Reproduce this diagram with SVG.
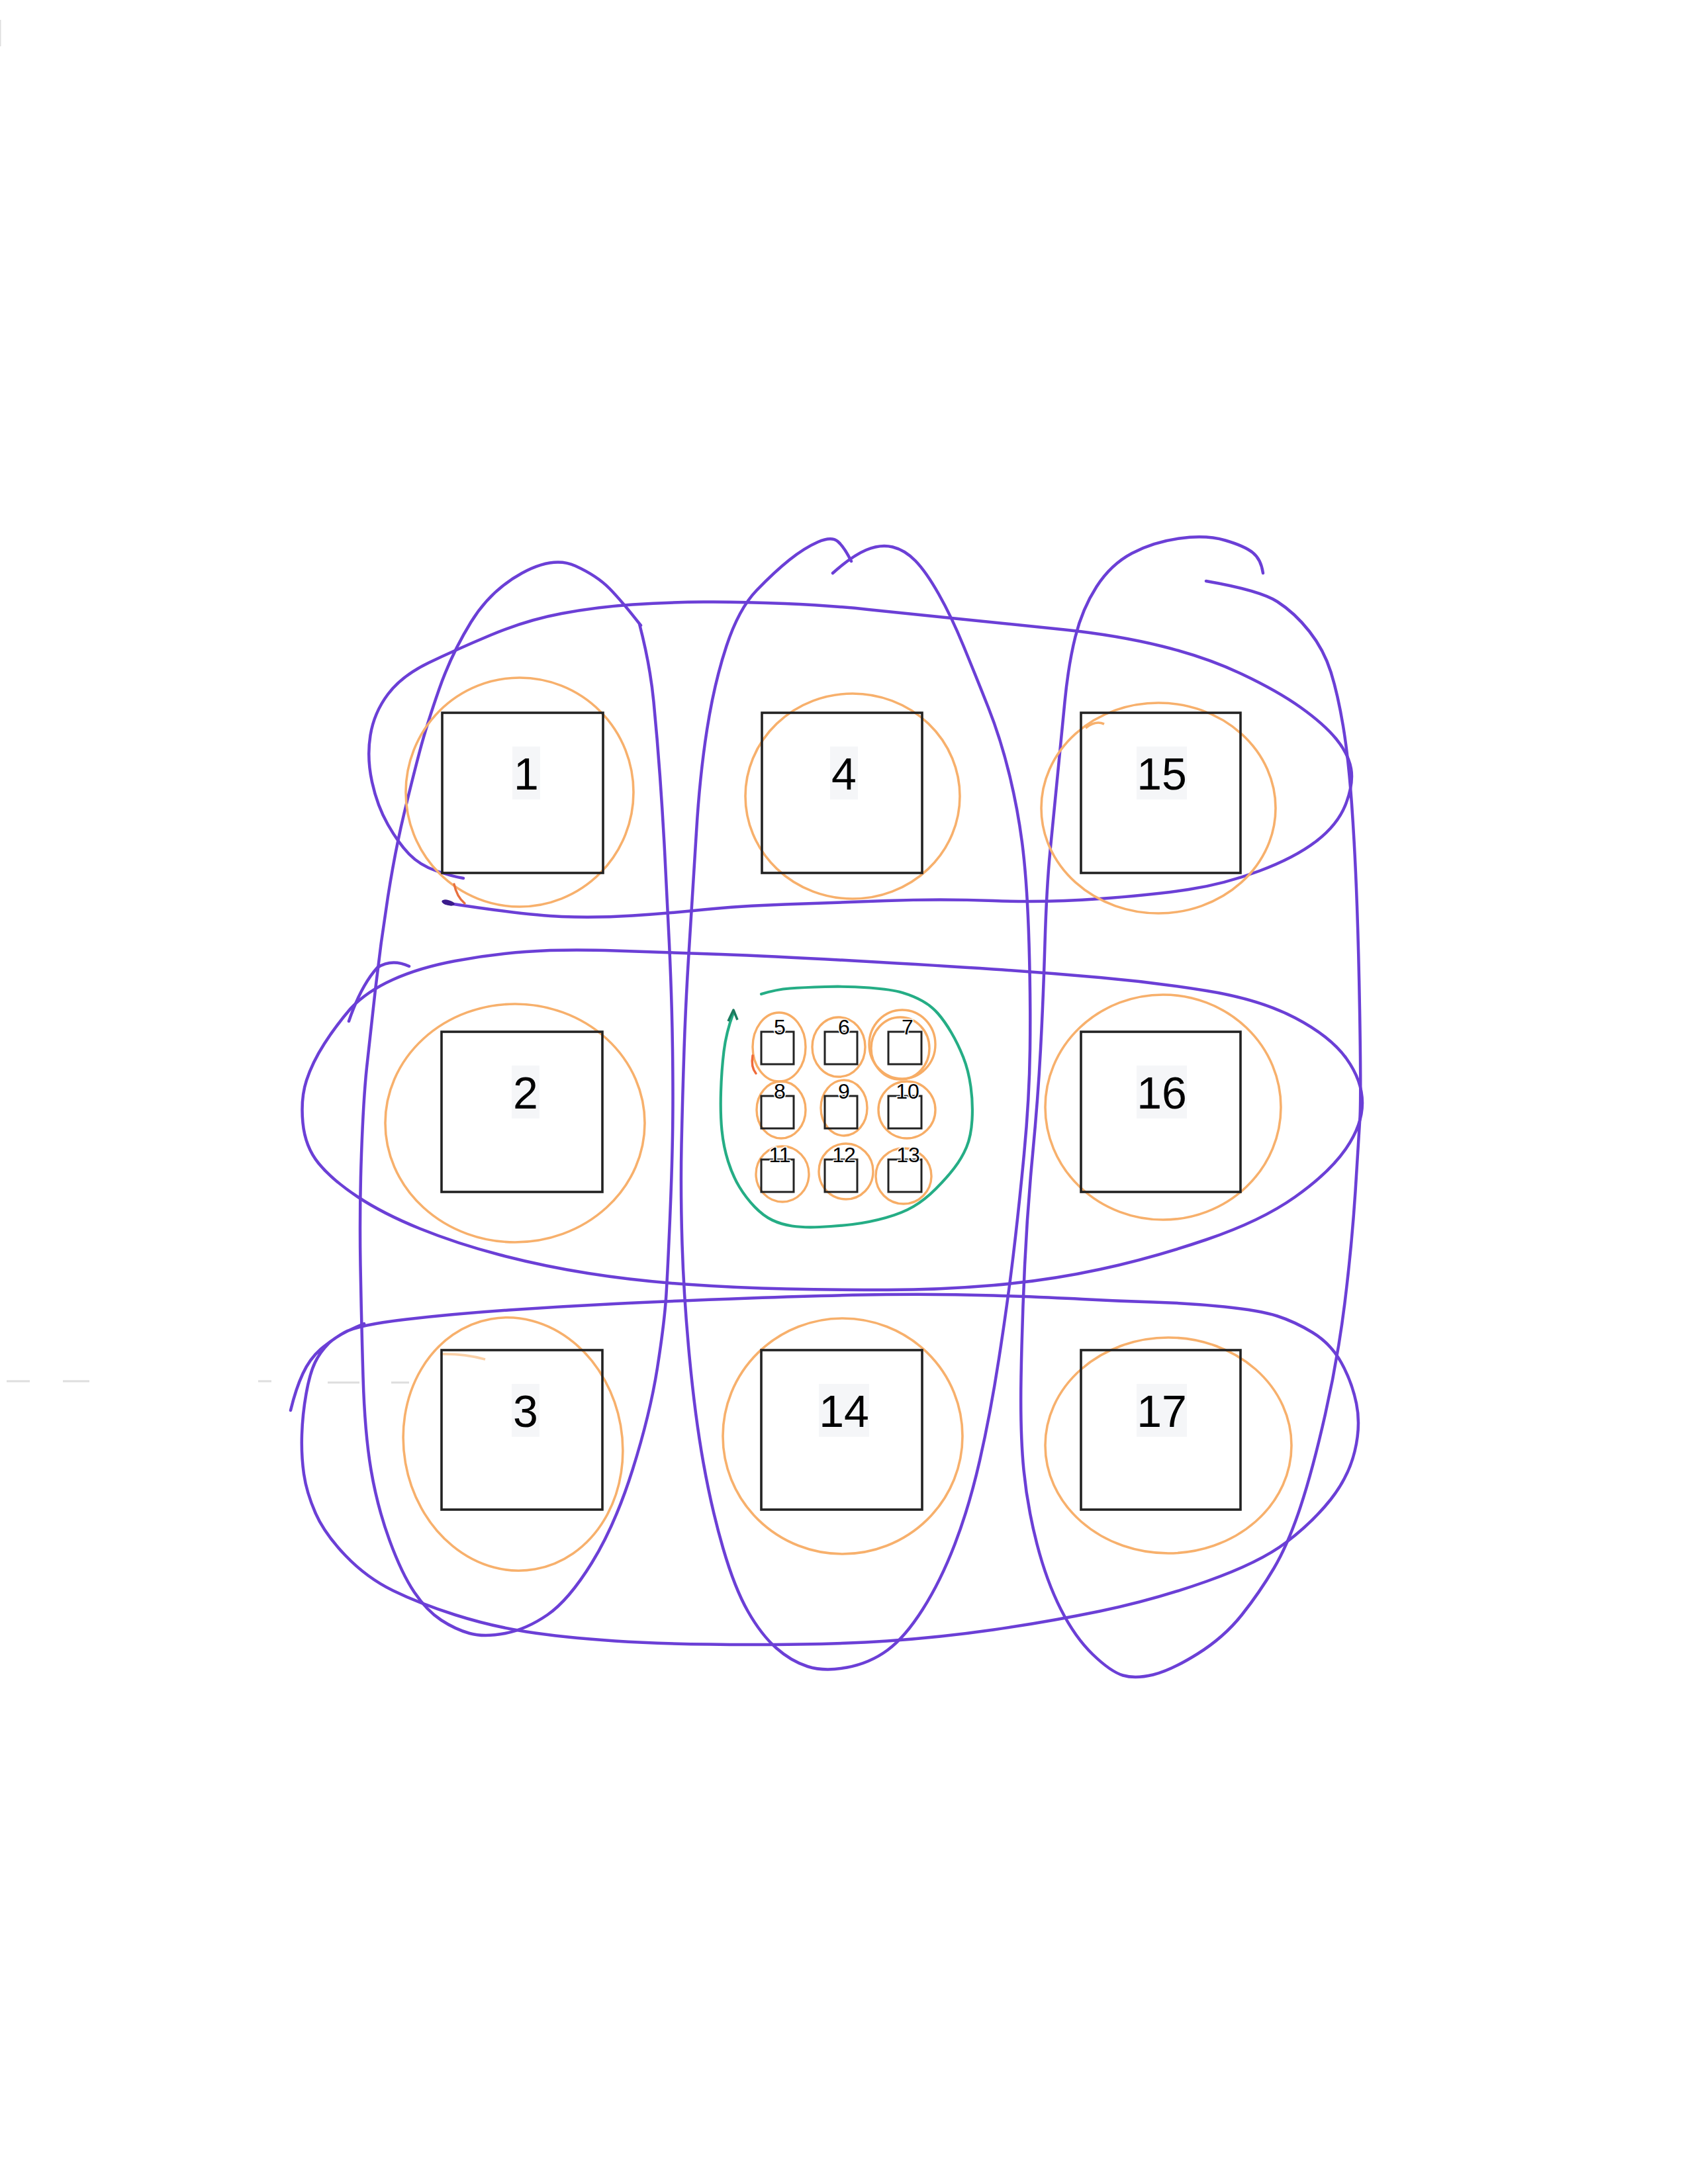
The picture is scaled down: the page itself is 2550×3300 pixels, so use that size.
<svg xmlns="http://www.w3.org/2000/svg" width="2550" height="3300" viewBox="0 0 2550 3300">
<style>
.p{fill:none;stroke:#6b3fd6;stroke-width:4.5;stroke-linecap:round;stroke-linejoin:round}
.o{fill:none;stroke:#f7b06c;stroke-width:3.6}
.os{fill:none;stroke:#f7ad66;stroke-width:3.4}
.g{fill:none;stroke:#25ad85;stroke-width:4.2;stroke-linecap:round}
.box{fill:none;stroke:#222;stroke-width:3.6}
.sbox{fill:none;stroke:#222;stroke-width:3}
.lbg{fill:#f5f6f8}
.big{font-family:"Liberation Sans",Arial,sans-serif;font-size:68px;fill:#000;text-anchor:middle}
.sm{font-family:"Liberation Sans",Arial,sans-serif;font-size:32px;fill:#000;text-anchor:middle;stroke:#fff;stroke-width:3;paint-order:stroke}
.art{stroke:#dedede;stroke-width:3;fill:none}
</style>
<rect width="2550" height="3300" fill="#fff"/>
<g id="artifacts">
<path class="art" d="M10,2087 L45,2087 M95,2087 L135,2087 M390,2087 L410,2087 M495,2089 L543,2089 M591,2089 L618,2089"/>
<path class="art" d="M0,30 L0,70"/>
</g>
<g id="connectors">
<g id="purple-loops">
<path class="p" d="M672,1364 Q795,1383 848.5,1385 T955.5,1383.5 T1062.5,1374.5 T1186,1366.5 T1338.5,1361 T1501,1361 T1661.5,1358 T1795.5,1344 T1902.5,1316 T1988.5,1271 T2033,1215 T2041,1161.5 T2018.5,1116.5 T1965,1069 T1876,1018.5 T1755.5,976.5 T1608.5,951.5 T1447.5,935 T1311.5,921 T1186,912 T1062.5,909.5 T955.5,913.5 T848.5,927 T741.5,959.5 T647.5,1001.5 T586,1049 T559.5,1111 T562,1181.5 T586,1246 T618,1290.5 T658,1315.5 T700,1327"/>
<ellipse cx="677" cy="1364" rx="10" ry="4" fill="#3b1c8c" transform="rotate(15 677 1364)"/>
<path class="p" d="M530,1523.5 Q554,1498 594,1480 T687.5,1452 T795,1438 T929,1436.5 T1089.5,1442 T1295.5,1452 T1501,1464.5 T1661.5,1477 T1822.5,1497 T1956.5,1538 T2034,1599.5 T2058,1666.5 T2033,1736 T1956.5,1808.5 T1822.5,1873 T1661.5,1918 T1501,1942 T1340.5,1949 T1188,1947.5 T1036,1940.5 T889,1924 T755,1896 T634.5,1856.5 T540.5,1808.5 T481.5,1758 T457.5,1696.5 T463,1632.5 T490,1577 T530,1523.5 Z"/>
<path class="p" d="M527,1543 Q545,1490 570,1462 Q592,1448 618,1460"/>
<path class="p" d="M439,2131 Q447,2098 457.5,2075.5 T484,2039 T520,2013.5 T614,1993.5 T768.5,1979.5 T929,1970 T1132.5,1961.5 T1338.5,1956 T1501,1957.5 T1635,1963 T1742.5,1967.5 T1849.5,1974.5 T1929.5,1988.5 T1983,2013.5 T2026,2058.5 T2049,2120.5 T2046.5,2193 T2010,2266 T1943,2330.5 T1822.5,2389.5 T1661.5,2434.5 T1501,2462.5 T1340.5,2479.5 T1134.5,2485 T929,2479.5 T795,2465.5 T687.5,2440 T594,2403.5 T522,2350.5 T476.5,2286 T459,2227 T456,2168 T462.5,2106 T476,2058.5 T497.5,2029 T550,2000"/>
<path class="p" d="M966,943 Q982,1004 987.5,1060.5 T997,1173 T1004,1285 T1011,1425.5 T1016,1585 T1016,1716 T1012,1842.5 T1006.5,1955 T993,2067 T955.5,2221 T894,2361.5 T827,2440 T763,2468 T709.5,2468 T666.5,2448 T626,2406 T588.5,2327.5 T560.5,2221 T548.5,2081 T544.5,1912.5 T546,1744 T554,1613 T567,1495.5 T586,1355 T610.5,1229 T634.5,1133.5 T663.5,1041 T711.5,940 T788.5,866 T869,855 T921,889.5 T968,945"/>
<path class="p" d="M1258,866 Q1287,840 1308.5,831 T1348.5,826.5 T1383,847.5 T1418,897.5 T1455.5,976 T1493,1069 T1525.5,1173 T1545.5,1285 T1554.5,1425.5 T1556,1585 T1547,1744 T1530.5,1898.5 T1509,2053 T1480,2207 T1442.5,2333 T1394,2431.5 T1340.5,2493.5 T1279.5,2519.5 T1220,2518 T1172.5,2490 T1130,2435 T1092.5,2340 T1062.5,2210 T1041.5,2050 T1030.5,1880 T1029.5,1730 T1033.5,1585 T1041.5,1425.5 T1052,1257 T1068,1102.5 T1097.5,976 T1143,892 T1192.5,846 T1235.5,819 T1265.5,818 T1286,848"/>
<path class="p" d="M1822,878 Q1903,892 1929.5,909 T1978,954 T2010.5,1015.5 T2029,1097 T2042,1215 T2050,1369 T2054.5,1556.5 T2054.5,1688 T2047.5,1800 T2031.5,1968.5 T2002,2137 T1964.5,2277 T1924.5,2369.5 T1876,2440 T1809,2499 T1742,2530.5 T1696.5,2531.5 T1651,2500 T1602.5,2431.5 T1566.5,2333 T1546.5,2221 T1542.5,2081 T1548,1912.5 T1560,1744 T1572,1585 T1578.5,1425.5 T1586.5,1285 T1597.5,1173 T1608.5,1060.5 T1624.5,962 T1656.5,886.5 T1710,836 T1782,813.5 T1851,816.5 T1892.5,835 T1908,866"/>
</g>
<g id="green-loop">
<path class="g" d="M1150,1502 Q1173,1495 1193,1493.5 T1246.5,1491 T1313.5,1492.5 T1363.5,1500 T1393.5,1512.5 T1417,1531.5 T1437,1560 T1455,1597 T1466.5,1642 T1468.5,1692 T1460,1733.5 T1441.5,1765 T1413.5,1796.5 T1380,1823 T1338,1840 T1288,1850 T1238,1854 T1196.5,1852.5 T1166.5,1843.5 T1140,1823.5 T1117,1793.5 T1100,1755 T1090.5,1708 T1089,1650 T1093.5,1588.5 T1108,1530"/>
<path d="M1100,1543 L1108,1526 L1114,1541" fill="none" stroke="#1c7a5e" stroke-width="3.5" stroke-linejoin="round"/>
</g>
<g id="orange-loops">
<ellipse class="o" cx="785" cy="1197" rx="172" ry="173"/>
<path d="M686,1336 Q690,1355 702,1365" fill="none" stroke="#e8703e" stroke-width="3.5" stroke-linecap="round"/>
<ellipse class="o" cx="1288" cy="1203" rx="162" ry="155"/>
<ellipse class="o" cx="1750" cy="1221" rx="177" ry="159"/>
<path class="o" d="M1640,1100 Q1655,1088 1668,1094"/>
<ellipse class="o" cx="778" cy="1697" rx="196" ry="180"/>
<ellipse class="o" cx="1757" cy="1673" rx="178" ry="170"/>
<ellipse class="o" cx="775" cy="2182" rx="165" ry="192" transform="rotate(-10 775 2182)"/>
<path class="o" d="M665,2046 Q700,2045 733,2054" stroke-opacity="0.6"/>
<ellipse class="o" cx="1273" cy="2170" rx="181" ry="178"/>
<ellipse class="o" cx="1765" cy="2184" rx="186" ry="163"/>
<ellipse class="os" cx="1177" cy="1582" rx="40" ry="52"/>
<path d="M1137,1595 Q1134,1612 1142,1622" fill="none" stroke="#ef6a3a" stroke-width="3.5" stroke-linecap="round"/>
<ellipse class="os" cx="1267" cy="1582" rx="40" ry="45"/>
<ellipse class="os" cx="1363" cy="1578" rx="50" ry="52"/>
<ellipse class="os" cx="1360" cy="1584" rx="44" ry="47"/>
<ellipse class="os" cx="1180" cy="1677" rx="37" ry="43"/>
<ellipse class="os" cx="1275" cy="1674" rx="35" ry="42"/>
<ellipse class="os" cx="1370" cy="1677" rx="43" ry="43"/>
<ellipse class="os" cx="1182" cy="1774" rx="40" ry="42"/>
<ellipse class="os" cx="1278" cy="1770" rx="41" ry="42"/>
<ellipse class="os" cx="1365" cy="1777" rx="42" ry="42"/>
</g>
</g>
<g id="node-1"><rect class="box" x="668" y="1077" width="243" height="242"/><rect class="lbg" x="774" y="1128" width="42" height="80"/><text class="big" x="795" y="1193">1</text></g>
<g id="node-4"><rect class="box" x="1151" y="1077" width="242" height="242"/><rect class="lbg" x="1254" y="1128" width="42" height="80"/><text class="big" x="1275" y="1193">4</text></g>
<g id="node-15"><rect class="box" x="1633" y="1077" width="241" height="242"/><rect class="lbg" x="1717" y="1128" width="76" height="80"/><text class="big" x="1755" y="1193">15</text></g>
<g id="node-2"><rect class="box" x="667" y="1559" width="243" height="242"/><rect class="lbg" x="773" y="1610" width="42" height="80"/><text class="big" x="794" y="1675">2</text></g>
<g id="node-16"><rect class="box" x="1633" y="1559" width="241" height="242"/><rect class="lbg" x="1717" y="1610" width="76" height="80"/><text class="big" x="1755" y="1675">16</text></g>
<g id="node-3"><rect class="box" x="667" y="2040" width="243" height="241"/><rect class="lbg" x="773" y="2091" width="42" height="80"/><text class="big" x="794" y="2156">3</text></g>
<g id="node-14"><rect class="box" x="1150" y="2040" width="243" height="241"/><rect class="lbg" x="1237" y="2091" width="76" height="80"/><text class="big" x="1275" y="2156">14</text></g>
<g id="node-17"><rect class="box" x="1633" y="2040" width="241" height="241"/><rect class="lbg" x="1717" y="2091" width="76" height="80"/><text class="big" x="1755" y="2156">17</text></g>
<g id="node-5"><rect class="sbox" x="1150" y="1559" width="49" height="49"/><text class="sm" x="1178" y="1563">5</text></g>
<g id="node-6"><rect class="sbox" x="1246" y="1559" width="49" height="49"/><text class="sm" x="1275" y="1563">6</text></g>
<g id="node-7"><rect class="sbox" x="1342" y="1559" width="50" height="49"/><text class="sm" x="1371" y="1563">7</text></g>
<g id="node-8"><rect class="sbox" x="1150" y="1656" width="49" height="49"/><text class="sm" x="1178" y="1660">8</text></g>
<g id="node-9"><rect class="sbox" x="1246" y="1656" width="49" height="49"/><text class="sm" x="1275" y="1660">9</text></g>
<g id="node-10"><rect class="sbox" x="1342" y="1656" width="50" height="49"/><text class="sm" x="1371" y="1660">10</text></g>
<g id="node-11"><rect class="sbox" x="1150" y="1752" width="49" height="49"/><text class="sm" x="1178" y="1756">11</text></g>
<g id="node-12"><rect class="sbox" x="1246" y="1752" width="49" height="49"/><text class="sm" x="1275" y="1756">12</text></g>
<g id="node-13"><rect class="sbox" x="1342" y="1752" width="50" height="49"/><text class="sm" x="1372" y="1756">13</text></g>
</svg>
